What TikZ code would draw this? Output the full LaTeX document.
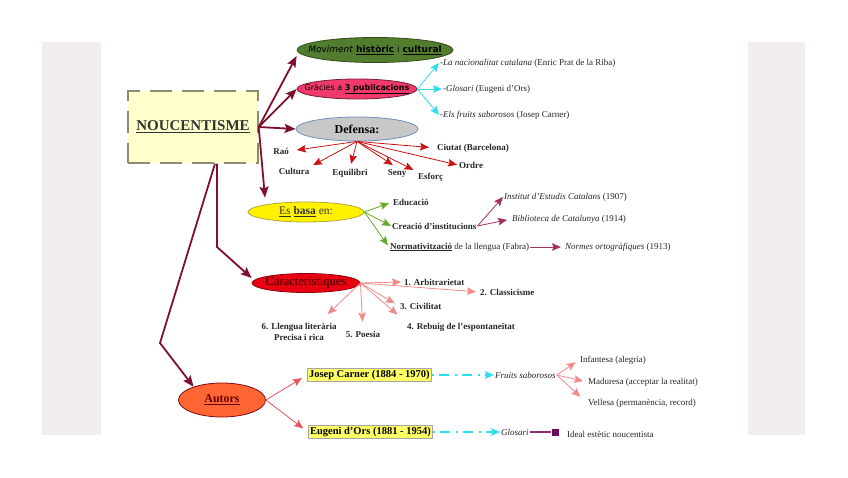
\documentclass[tikz,border=0pt]{standalone}
\usepackage{fontspec}
\setmainfont{Liberation Serif}
\newfontfamily\comicfont{DejaVu Sans}
\usetikzlibrary{shapes,arrows.meta,positioning}
\definecolor{panelgrey}{HTML}{F2EEEE}
\definecolor{nouyellow}{HTML}{FFFFCC}
\definecolor{noudash}{HTML}{8C8C70}
\definecolor{noured}{HTML}{7E1030}
\definecolor{movgreen}{HTML}{527D2E}
\definecolor{grapink}{HTML}{F03A6C}
\definecolor{defgrey}{HTML}{C8C8C8}
\definecolor{defblue}{HTML}{7090C0}
\definecolor{linkcyan}{HTML}{30DDF0}
\definecolor{defred}{HTML}{CC1111}
\definecolor{basagreen}{HTML}{6AAA2A}
\definecolor{instred}{HTML}{A33060}
\definecolor{carred}{HTML}{E80010}
\definecolor{carpink}{HTML}{F28A8A}
\definecolor{autorange}{HTML}{FF6633}
\definecolor{autred}{HTML}{D01020}
\definecolor{authyellow}{HTML}{FFFF66}
\definecolor{plum}{HTML}{6A0A5A}
\newcommand{\lblsize}{\fontsize{9}{10.5}\selectfont}

\begin{document}
\begin{tikzpicture}[x=1pt, y=-1pt,
    bubble/.style={ellipse, draw, inner xsep=-30pt, inner ysep=-10pt, line width=0.8pt},
    lbl/.style={inner sep=1pt, anchor=west, font=\lblsize, text=black!85},
    blbl/.style={lbl, font=\lblsize\bfseries},
    authbox/.style={rectangle, draw=black!35, fill=authyellow, line width=1pt, inner sep=1.5pt, anchor=west, font=\fontsize{10.5}{12}\selectfont\bfseries},
    mainarrow/.style={-{Stealth[length=11pt, width=9pt, inset=2pt]}, line width=1.8pt, draw=noured},
    thinarrow/.style={-{Stealth[length=9pt, width=7.5pt, inset=1.5pt]}, line width=0.8pt}
]
\useasboundingbox (0,0) rectangle (848,477);
\fill[white] (0,0) rectangle (848,477);
\fill[panelgrey] (42,42) rectangle (101,435);
\fill[panelgrey] (748,42) rectangle (805,435);

% central box
\node[draw=noudash, dash pattern=on 22pt off 10pt, line width=1.4pt, fill=nouyellow,
      minimum width=130, minimum height=72, text=black!80,
      font=\fontsize{15}{18}\selectfont\bfseries] (nou) at (193,127) {\underline{NOUCENTISME}};

% main bubbles
\node[bubble, fill=movgreen, draw=movgreen!60!black, minimum width=156, minimum height=25,
      font=\comicfont\fontsize{9}{10}\selectfont] (mov) at (375,50)
      {\textit{Moviment} \underline{\textbf{històric}} i \underline{\textbf{cultural}}};
\node[bubble, fill=grapink, draw=grapink!50!black, minimum width=120, minimum height=20,
      font=\comicfont\fontsize{8}{9}\selectfont] (gra) at (357,89)
      {Gràcies a \underline{\textbf{3 publicacions}}};
\node[bubble, fill=defgrey, draw=defblue, minimum width=122, minimum height=24,
      font=\fontsize{12}{14}\selectfont\bfseries] (def) at (357,129) {Defensa:};
\node[bubble, fill=yellow, draw=olive!70, minimum width=116, minimum height=20,
      font=\fontsize{11.5}{13}\selectfont, text=black!80] (esb) at (306,212)
      {\underline{Es} \underline{\textbf{basa}} en:};
\node[bubble, fill=carred, draw=carred!60!black, minimum width=108, minimum height=19,
      font=\fontsize{12.5}{14}\selectfont, text=black!80!red] (car) at (306,283) {Caracteristiques};
\node[bubble, fill=autorange, draw=autred!60!black, minimum width=87, minimum height=34,
      font=\fontsize{12}{13}\selectfont\bfseries, text=red!40!black] (aut) at (222,400) {\underline{Autors}};

% publicacions
\node[lbl] (lanac) at (439,63) {-\textit{La nacionalitat catalana} (Enric Prat de la Riba)};
\node[lbl] (glosa) at (442,89) {-\textit{Glosari} (Eugeni d'Ors)};
\node[lbl] (fruitsl) at (439,115) {-\textit{Els fruits saborosos} (Josep Carner)};

% defensa
\node[blbl, anchor=center] (rao) at (281,151) {Raó};
\node[blbl] (ciutat) at (436,148) {Ciutat (Barcelona)};
\node[blbl, anchor=center] (cultura) at (294,171) {Cultura};
\node[blbl, anchor=center] (equil) at (350,173) {Equilibri};
\node[blbl, anchor=center] (seny) at (397,173) {Seny};
\node[blbl] (esforc) at (417,177) {Esforç};
\node[blbl] (ordre) at (458,165) {Ordre};

% es basa en
\node[blbl] (educ) at (392,202) {Educació};
\node[blbl] (creacio) at (391,226) {Creació d'institucions};
\node[lbl] (norm) at (389,247) {\underline{\textbf{Normativització}} de la llengua (Fabra)};
\node[lbl] (institut) at (503,197) {\textit{Institut d'Estudis Catalans} (1907)};
\node[lbl] (biblio) at (511,219) {\textit{Biblioteca de Catalunya} (1914)};
\node[lbl] (normes) at (564,247) {\textit{Normes ortogràfiques} (1913)};

% caracteristiques
\node[blbl] (arb) at (403,282) {1. Arbitrarietat};
\node[blbl] (cla) at (479,292) {2. Classicisme};
\node[blbl] (civ) at (399,306) {3. Civilitat};
\node[blbl] (reb) at (406,327) {4. Rebuig de l'espontaneïtat};
\node[blbl, anchor=center] (poe) at (363,334) {5. Poesia};
\node[blbl, anchor=center, align=center] (llen) at (299,332) {6. Llengua literària\\Precisa i rica};

% autors
\node[authbox] (jc) at (307,375) {Josep Carner (1884 - 1970)};
\node[authbox] (eo) at (308,432) {Eugeni d'Ors (1881 - 1954)};
\node[lbl] (fruits) at (494,375) {\textit{Fruits saborosos}};
\node[lbl] (glos) at (500,432) {\textit{Glosari}};
\node[lbl] (inf) at (579,360) {Infantesa (alegria)};
\node[lbl] (mad) at (587,382) {Maduresa (acceptar la realitat)};
\node[lbl] (vel) at (587,403) {Vellesa (permanència, record)};
\node[fill=plum, minimum size=7, inner sep=0pt] (sq) at (555,432) {};
\node[lbl] (ideal) at (566,434) {Ideal estètic noucentista};

% bend points of the long arrows
\coordinate (carbend) at (217,247);
\coordinate (autbend) at (160,343);

% connectors from the central box
\draw[mainarrow] (nou.east) -- ([yshift=-6pt]mov.west);
\draw[mainarrow] (nou.east) -- (gra.west);
\draw[mainarrow] (nou.east) -- (def.west);
\draw[mainarrow] (nou.east) -- ([xshift=-41pt,yshift=4pt]esb.north);
\draw[mainarrow] ([xshift=24pt]nou.south) -- (carbend) -- ([yshift=5pt]car.west);
\draw[mainarrow] ([xshift=22pt]nou.south) -- (autbend) -- (aut.155);

% publicacions
\draw[thinarrow, draw=linkcyan] (gra.east) -- (lanac.west);
\draw[thinarrow, draw=linkcyan] (gra.east) -- (glosa.west);
\draw[thinarrow, draw=linkcyan] (gra.east) -- (fruitsl.west);

% defensa
\begin{scope}[thinarrow, draw=defred]
\draw[shorten >=7pt] (def.south) -- (rao.east);
\draw[shorten >=3pt] (def.south) -- (cultura.north east);
\draw[shorten >=4pt] (def.south) -- (equil.north);
\draw[shorten >=5pt] (def.south) -- (seny.north);
\draw[shorten >=4pt] (def.south) -- (esforc.north west);
\draw[shorten >=1pt] (def.south) -- (ordre.west);
\draw[shorten >=7pt] (def.south) -- (ciutat.west);
\end{scope}

% es basa en
\begin{scope}[thinarrow, draw=basagreen]
\draw[shorten >=3pt] (esb.east) -- (educ.west);
\draw (esb.east) -- (creacio.west);
\draw[shorten >=2pt] (esb.east) -- (norm.west);
\end{scope}
\draw[thinarrow, draw=instred] (creacio.east) -- (institut.west);
\draw[thinarrow, draw=instred, shorten >=4pt] (creacio.east) -- (biblio.west);
\draw[thinarrow, draw=instred, shorten >=3pt] (norm.east) -- (normes.west);

% caracteristiques
\begin{scope}[thinarrow, draw=carpink]
\draw[shorten >=2pt] (car.east) -- (arb.west);
\draw[shorten >=3pt] (car.east) -- (cla.west);
\draw[shorten >=5pt] (car.east) -- (civ.west);
\draw[shorten >=11pt] (car.east) -- (reb.north west);
\draw[shorten >=8pt] (car.east) -- (poe.north);
\draw[shorten >=12pt] (car.east) -- ([xshift=20pt]llen.north);
\end{scope}

% autors
\draw[thinarrow, draw=autred!60!pink, shorten >=6pt] (aut.east) -- (jc.west);
\draw[thinarrow, draw=autred!60!pink, shorten >=6pt] (aut.east) -- (eo.west);
\draw[thinarrow, draw=linkcyan, line width=1.3pt, dash pattern=on 2pt off 5pt on 10pt off 6pt] (jc.east) -- (fruits.west);
\draw[thinarrow, draw=linkcyan, line width=1.3pt, dash pattern=on 2pt off 5pt on 10pt off 6pt] (eo.east) -- (glos.west);
\begin{scope}[thinarrow, draw=carpink]
\draw[shorten >=4pt] (fruits.east) -- (inf.west);
\draw[shorten >=4pt] (fruits.east) -- (mad.west);
\draw[shorten >=9pt] (fruits.east) -- (vel.west);
\end{scope}
\draw[draw=plum!80!pink, line width=1.2pt] (glos.east) -- (sq.west);
\end{tikzpicture}
\end{document}
